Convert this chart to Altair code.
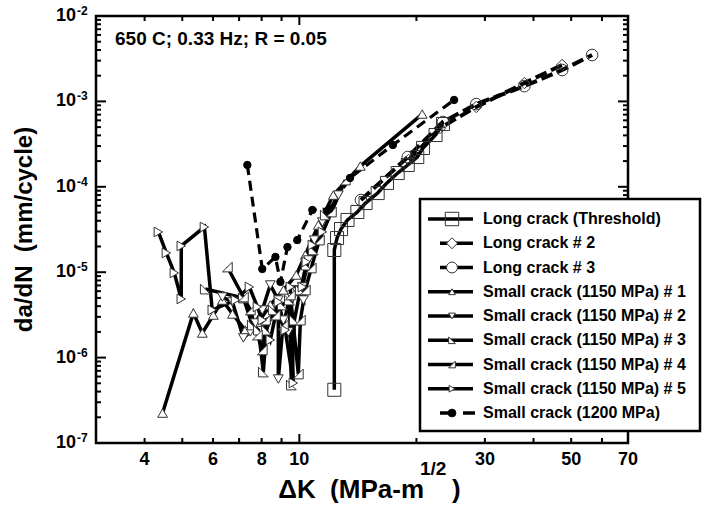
import altair as alt
import pandas as pd

FONT = "Liberation Sans, Arial, Helvetica, sans-serif"

# ---------------- data ----------------
names = [
    "Long crack (Threshold)",
    "Long crack # 2",
    "Long crack # 3",
    "Small crack (1150 MPa) # 1",
    "Small crack (1150 MPa) # 2",
    "Small crack (1150 MPa) # 3",
    "Small crack (1150 MPa) # 4",
    "Small crack (1150 MPa) # 5",
    "Small crack (1200 MPa)",
]

thr_dk = [12.3, 12.3, 12.5, 12.8, 13.3, 14.1, 14.8, 15.9, 16.8, 17.9, 19.0, 20.1, 20.8, 22.4, 23.4]
thr_da = [4.2e-7, 1.82e-5, 2.51e-5, 3.2e-5, 4.09e-5, 5.07e-5, 6.45e-5, 8.45e-5, 1.11e-4,
          1.45e-4, 1.8e-4, 2.23e-4, 2.85e-4, 4.04e-4, 5.43e-4]

lc2_dk = [19.1, 23.0, 28.5, 37.9, 47.4]
lc2_da = [2.06e-4, 4.88e-4, 8.6e-4, 1.64e-3, 2.67e-3]

lc3_dk = [14.4, 19.0, 23.4, 28.5, 37.9, 47.4, 56.6]
lc3_da = [7.0e-5, 2.23e-4, 5.74e-4, 9.3e-4, 1.51e-3, 2.33e-3, 3.49e-3]

sc1_dk = [4.45, 5.34, 5.63, 6.01, 6.34, 6.73, 7.26, 7.85, 8.42, 9.10, 9.82, 10.36, 11.19, 12.23, 14.35, 20.7]
sc1_da = [2.24e-7, 3.33e-6, 1.94e-6, 3.15e-6, 4.72e-6, 3.24e-6, 2.1e-6, 2.6e-6, 4.13e-6,
          6.19e-6, 9.27e-6, 1.59e-5, 3.57e-5, 8.0e-5, 1.75e-4, 7.11e-4]

sc2_dk = [6.34, 6.73, 7.18, 7.48, 7.71, 8.03, 8.42, 8.83, 8.83, 9.10, 9.37, 9.59, 9.88, 10.24,
          10.18, 10.55, 10.93, 11.46, 12.60]
sc2_da = [5.13e-6, 4.48e-6, 1.70e-6, 2.0e-6, 2.54e-6, 3.61e-6, 7.08e-6, 4.72e-6, 5.61e-7, 2.75e-6,
          2.0e-6, 4.99e-6, 5.86e-6, 4.72e-6, 6.71e-6, 1.39e-5, 2.38e-5, 3.87e-5, 8.0e-5]

sc3_dk = [5.73, 7.18, 7.57, 7.85, 8.08, 8.23, 8.57, 9.04, 9.43, 9.54, 9.71, 10.06, 10.42, 10.86, 11.66]
sc3_da = [6.35e-6, 4.99e-6, 2.41e-6, 2.1e-6, 6.78e-7, 2.1e-6, 3.61e-6, 4.13e-6, 4.72e-6,
          4.78e-7, 2.75e-6, 6.19e-6, 1.21e-5, 1.82e-5, 4.68e-5]

sc4_dk = [6.53, 7.18, 7.48, 7.80, 8.03, 8.18, 8.68, 9.10, 9.48, 9.94, 10.06, 10.36, 10.73, 11.26, 12.09, 13.13]
sc4_da = [1.15e-5, 5.13e-6, 3.61e-6, 1.84e-6, 1.23e-6, 2.75e-6, 3.15e-6, 2.41e-6, 5.41e-6,
          6.43e-7, 2.75e-6, 6.19e-6, 1.12e-5, 2.38e-5, 5.07e-5, 1.2e-4]

sc5_dk = [4.34, 4.55, 4.77, 4.97, 4.97, 5.70, 5.97, 6.85, 7.44, 7.80, 8.03, 8.42, 8.83, 9.20,
          9.65, 9.48, 10.18, 10.42, 10.80, 11.46]
sc5_da = [2.96e-5, 1.68e-5, 9.8e-6, 4.86e-6, 2.03e-5, 3.38e-5, 3.61e-6, 4.72e-6, 6.71e-6, 3.92e-6,
          2.75e-6, 1.61e-6, 4.48e-6, 2.1e-6, 5.04e-7, 6.71e-6, 6.71e-6, 1.32e-5, 2.08e-5, 2.96e-5]

s12_dk = [7.35, 8.03, 8.68, 8.94, 9.32, 9.88, 10.8, 11.95, 13.5, 17.4, 25.0]
s12_da = [1.8e-4, 1.09e-5, 1.51e-5, 7.7e-6, 1.97e-5, 2.38e-5, 5.35e-5, 5.5e-5, 1.27e-4, 3.09e-4, 1.04e-3]

series_dk = [thr_dk, lc2_dk, lc3_dk, sc1_dk, sc2_dk, sc3_dk, sc4_dk, sc5_dk, s12_dk]
series_da = [thr_da, lc2_da, lc3_da, sc1_da, sc2_da, sc3_da, sc4_da, sc5_da, s12_da]

x_label_vals = [4, 6, 8, 10, 30, 50, 70]
x_label_text = ["4", "6", "8", "10", "30", "50", "70"]
x_minor = [4, 5, 6, 7, 8, 9, 20, 30, 40, 50, 60]
x_major = [10]
y_label_vals = [1e-7, 1e-6, 1e-5, 1e-4, 1e-3, 1e-2]
y_label_exp = ["-7", "-6", "-5", "-4", "-3", "-2"]
y_major = [1e-6, 1e-5, 1e-4, 1e-3]
y_minor = [m * 10.0 ** e for e in range(-7, -2) for m in range(2, 10)]

# ---------------- styles ----------------
TRI3 = "M -1 -1 L 1 1 L -1 1 Z"
TRI4 = "M 1 -1 L 1 1 L -1 1 Z"
shapes = ["square", "diamond", "circle", "triangle-up", "triangle-down", TRI3, TRI4, "triangle-right", "circle"]
fills = ["transparent", "transparent", "transparent", "white", "white", "white", "white", "white", "black"]
leg_fills = ["transparent", "white", "white", "white", "white", "white", "white", "white", "black"]
strokes = ["#333", "#333", "#333", "#333", "#333", "#333", "#333", "#333", "black"]
psize = [170, 130, 135, 95, 95, 95, 95, 95, 55]
lsize = [180, 120, 120, 45, 45, 45, 45, 45, 60]
dashes = [None, [12, 5], [12, 5], None, None, None, None, None, [10, 6]]
lwidth = [3.5, 4, 4, 3.5, 3.5, 3.5, 3.5, 3.5, 3.2]

W, H = 532, 427
xs = alt.Scale(type="log", domain=[3, 70], nice=False)
ys = alt.Scale(type="log", domain=[1e-7, 1e-2], nice=False)
lsc = alt.Scale(domain=[0, 8], range=[203, 397], nice=False, zero=False)

one = pd.DataFrame({"a": [0]})

main_layers = []
point_layers = []
for i, nm in enumerate(names):
    df = pd.DataFrame({"dk": series_dk[i], "da": series_da[i], "i": list(range(len(series_dk[i])))})
    kw = dict(color="black", strokeWidth=lwidth[i], clip=True)
    if dashes[i] is not None:
        kw["strokeDash"] = dashes[i]
    main_layers.append(
        alt.Chart(df).mark_line(**kw).encode(
            x=alt.X("dk:Q", scale=xs, axis=None),
            y=alt.Y("da:Q", scale=ys, axis=None),
            order="i:Q",
        )
    )
    point_layers.append(
        alt.Chart(df).mark_point(
            shape=shapes[i], size=psize[i], filled=True, fill=fills[i],
            stroke=strokes[i], strokeWidth=1, opacity=1, clip=True,
        ).encode(
            x=alt.X("dk:Q", scale=xs, axis=None),
            y=alt.Y("da:Q", scale=ys, axis=None),
        )
    )
main_layers += point_layers

# ticks (inward, all four sides)
dfx_min = pd.DataFrame({"v": x_minor})
dfx_maj = pd.DataFrame({"v": x_major})
dfy_min = pd.DataFrame({"v": y_minor})
dfy_maj = pd.DataFrame({"v": y_major})
for dfx, ln in [(dfx_min, 5), (dfx_maj, 9)]:
    main_layers.append(alt.Chart(dfx).mark_rule(color="black", strokeWidth=2).encode(
        x=alt.X("v:Q", scale=xs, axis=None), y=alt.value(H), y2=alt.value(H - ln)))
    main_layers.append(alt.Chart(dfx).mark_rule(color="black", strokeWidth=2).encode(
        x=alt.X("v:Q", scale=xs, axis=None), y=alt.value(0), y2=alt.value(ln)))
for dfy, ln in [(dfy_min, 5), (dfy_maj, 10)]:
    main_layers.append(alt.Chart(dfy).mark_rule(color="black", strokeWidth=2).encode(
        y=alt.Y("v:Q", scale=ys, axis=None), x=alt.value(0), x2=alt.value(ln)))
    main_layers.append(alt.Chart(dfy).mark_rule(color="black", strokeWidth=2).encode(
        y=alt.Y("v:Q", scale=ys, axis=None), x=alt.value(W), x2=alt.value(W - ln)))

# tick labels
dfxl = pd.DataFrame({"v": x_label_vals, "t": x_label_text})
main_layers.append(alt.Chart(dfxl).mark_text(
    font=FONT, fontSize=18, fontWeight="bold", align="center", baseline="alphabetic", color="black"
).encode(x=alt.X("v:Q", scale=xs, axis=None), y=alt.value(449), text="t:N"))

dfyl = pd.DataFrame({"v": y_label_vals, "e": y_label_exp})
main_layers.append(alt.Chart(dfyl).mark_text(
    font=FONT, fontSize=18, fontWeight="bold", align="right", baseline="middle", color="black"
).encode(y=alt.Y("v:Q", scale=ys, axis=None), x=alt.value(-20), text=alt.value("10")))
main_layers.append(alt.Chart(dfyl).mark_text(
    font=FONT, fontSize=12, fontWeight="bold", align="left", baseline="alphabetic", dy=-1, color="black"
).encode(y=alt.Y("v:Q", scale=ys, axis=None), x=alt.value(-19), text="e:N"))

# axis titles
main_layers.append(alt.Chart(one).mark_text(
    font=FONT, fontSize=24, fontWeight="bold", angle=270, align="center", baseline="middle", color="black"
).encode(x=alt.value(-71), y=alt.value(213.5), text=alt.value("da/dN\u00a0\u00a0(mm/cycle)")))
main_layers.append(alt.Chart(one).mark_text(
    font=FONT, fontSize=26, fontWeight="bold", align="right", baseline="alphabetic", color="black"
).encode(x=alt.value(328), y=alt.value(482), text=alt.value("\u0394K\u00a0\u00a0(MPa-m")))
main_layers.append(alt.Chart(one).mark_text(
    font=FONT, fontSize=19, fontWeight="bold", align="left", baseline="alphabetic", color="black"
).encode(x=alt.value(324), y=alt.value(459), text=alt.value("1/2")))
main_layers.append(alt.Chart(one).mark_text(
    font=FONT, fontSize=26, fontWeight="bold", align="left", baseline="alphabetic", color="black"
).encode(x=alt.value(356), y=alt.value(482), text=alt.value(")")))

# annotation
main_layers.append(alt.Chart(one).mark_text(
    font=FONT, fontSize=19, fontWeight="bold", align="left", baseline="middle", color="black"
).encode(x=alt.value(19), y=alt.value(23), text=alt.value("650 C; 0.33 Hz; R = 0.05")))

main = alt.layer(*main_layers)

# ---------------- legend ----------------
leg_layers = [
    alt.Chart(one).mark_rect(fill="white", stroke="black", strokeWidth=2.5).encode(
        x=alt.value(324), x2=alt.value(604), y=alt.value(183), y2=alt.value(415))
]
leg_line_start = [332, 344, 344, 332, 332, 332, 332, 332, 344]
leg_line_end = [377, 377, 377, 377, 377, 377, 377, 377, 380]
leg_dash = [None, None, None, None, None, None, None, None, [12, 11]]
leg_pts = []
for i, nm in enumerate(names):
    dfl = pd.DataFrame({"idx": [i], "name": [nm]})
    kw = dict(color="black", strokeWidth=3.5)
    if leg_dash[i] is not None:
        kw["strokeDash"] = leg_dash[i]
    leg_layers.append(alt.Chart(dfl).mark_rule(**kw).encode(
        y=alt.Y("idx:Q", scale=lsc, axis=None),
        x=alt.value(leg_line_start[i]), x2=alt.value(leg_line_end[i])))
    leg_pts.append(alt.Chart(dfl).mark_point(
        shape=shapes[i], size=lsize[i], filled=True, fill=leg_fills[i],
        stroke=strokes[i], strokeWidth=1, opacity=1,
    ).encode(y=alt.Y("idx:Q", scale=lsc, axis=None), x=alt.value(356)))
    leg_pts.append(alt.Chart(dfl).mark_text(
        font=FONT, fontSize=16, fontWeight="bold", align="left", baseline="middle", color="black"
    ).encode(y=alt.Y("idx:Q", scale=lsc, axis=None), x=alt.value(387), text="name:N"))
leg_layers += leg_pts
legend = alt.layer(*leg_layers)

chart = alt.layer(main, legend).resolve_scale(y="independent").properties(
    width=W, height=H,
    padding={"left": 96, "top": 16, "right": 74, "bottom": 62},
    autosize=alt.AutoSizeParams(type="none"),
    background="white",
).configure_view(stroke="black", strokeWidth=2.5)

chart.save("out.html", embed_options={"renderer": "svg", "actions": False})
